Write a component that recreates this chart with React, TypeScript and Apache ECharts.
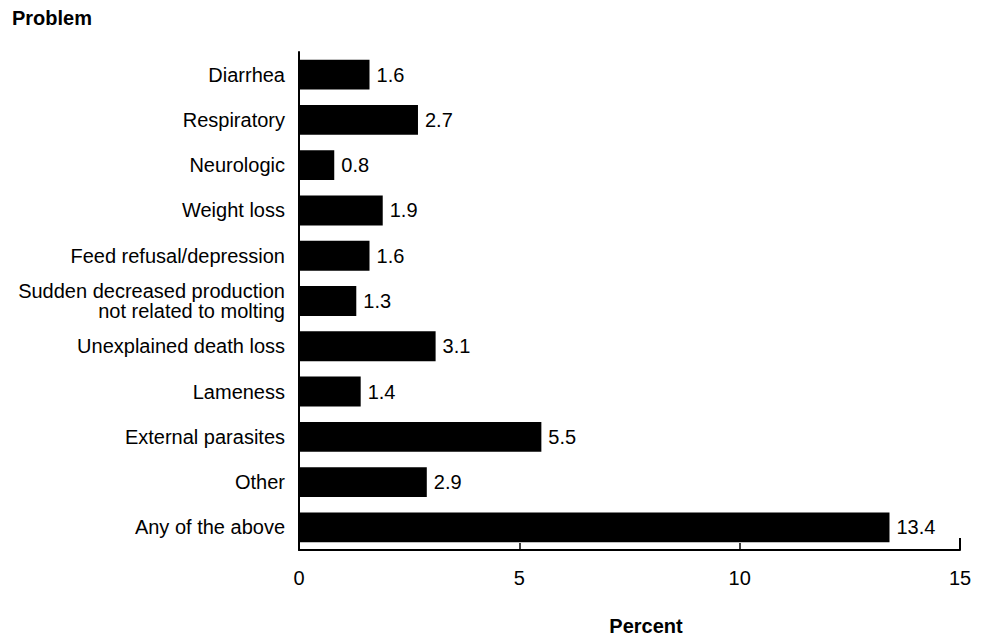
import React, { useEffect, useRef } from "react";
import * as echarts from "echarts";

const categories = [
  "Diarrhea",
  "Respiratory",
  "Neurologic",
  "Weight loss",
  "Feed refusal/depression",
  "Sudden decreased production\nnot related to molting",
  "Unexplained death loss",
  "Lameness",
  "External parasites",
  "Other",
  "Any of the above",
];
const values = [1.6, 2.7, 0.8, 1.9, 1.6, 1.3, 3.1, 1.4, 5.5, 2.9, 13.4];
const xMin = 0;
const xMax = 15;
const xInterval = 5;

const FONT = "Liberation Sans, Arial, sans-serif";

export default function App() {
  const ref = useRef<HTMLDivElement>(null);
  useEffect(() => {
    if (!ref.current) return;
    const chart = echarts.init(ref.current, null, { renderer: "svg" });
    chart.setOption({
      animation: false,
      backgroundColor: "#ffffff",
      grid: { left: 299, right: 27, top: 52, bottom: 89, containLabel: false },
      xAxis: {
        type: "value",
        min: xMin,
        max: xMax,
        interval: xInterval,
        axisLine: { show: true, lineStyle: { color: "#000", width: 2 } },
        axisTick: { show: true, inside: true, length: 7, lineStyle: { color: "#000", width: 1.5 } },
        splitLine: { show: false },
        axisLabel: { color: "#000", fontSize: 20, fontFamily: FONT, margin: 18 },
      },
      yAxis: {
        type: "category",
        data: categories,
        inverse: true,
        axisLine: { show: true, lineStyle: { color: "#000", width: 2 } },
        axisTick: { show: false },
        axisLabel: {
          color: "#000",
          fontSize: 20,
          fontFamily: FONT,
          margin: 14,
          lineHeight: 20,
          align: "right",
        },
      },
      series: [
        {
          type: "bar",
          data: values,
          barWidth: "66%",
          itemStyle: { color: "#000" },
          label: {
            show: true,
            position: "right",
            distance: 7,
            color: "#000",
            fontSize: 20,
            fontFamily: FONT,
            formatter: (p: any) => p.value.toFixed(1),
          },
        },
      ],
      graphic: [
        {
          type: "text",
          x: 12,
          y: 18,
          style: {
            text: "Problem",
            fill: "#000",
            font: `bold 20px ${FONT}`,
            textVerticalAlign: "middle",
          },
        },
        {
          type: "text",
          x: 646,
          y: 626,
          style: {
            text: "Percent",
            fill: "#000",
            font: `bold 20px ${FONT}`,
            textAlign: "center",
            textVerticalAlign: "middle",
          },
        },
        {
          type: "line",
          shape: { x1: 960, y1: 538, x2: 960, y2: 550 },
          style: { stroke: "#000", lineWidth: 2 },
        },
      ],
    });
    return () => chart.dispose();
  }, []);
  return (
    <div
      ref={ref}
      style={{ position: "fixed", left: 0, top: 0, width: 987, height: 639 }}
    />
  );
}
